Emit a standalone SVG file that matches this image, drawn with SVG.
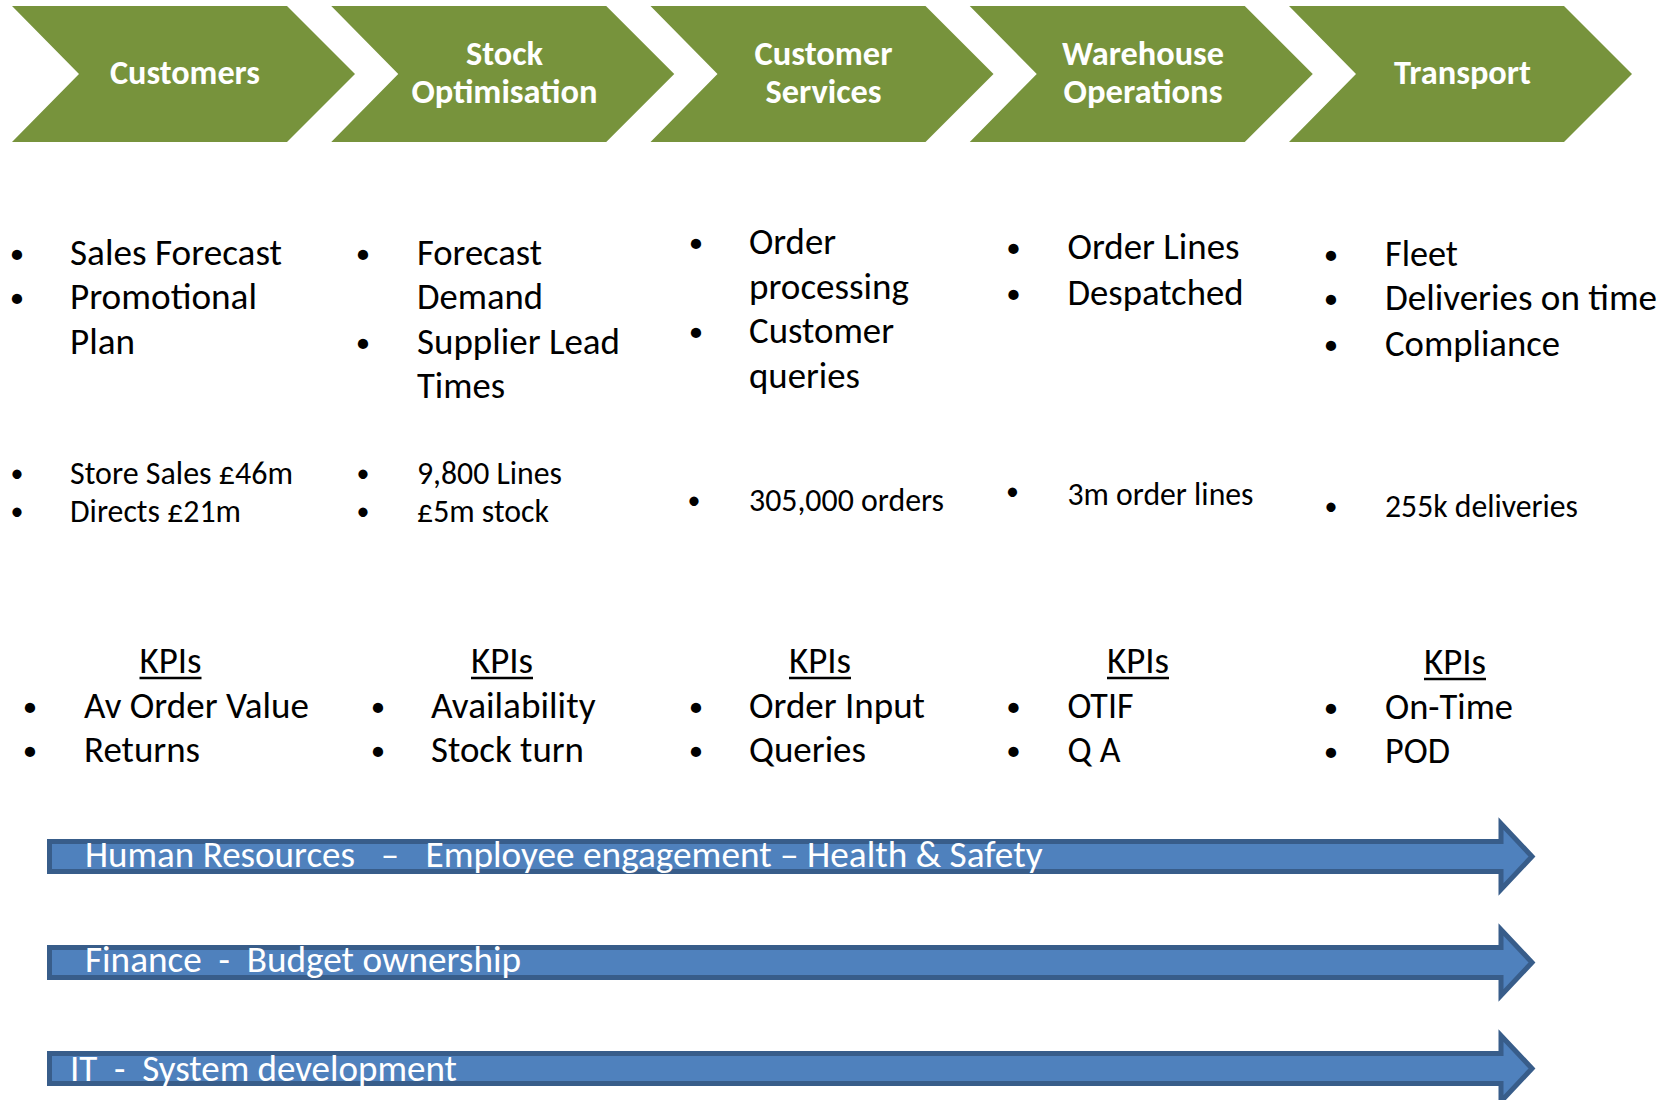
<svg xmlns="http://www.w3.org/2000/svg" width="1664" height="1100" viewBox="0 0 1664 1100">
  <defs>
    <style>
      .chev { fill: #77933C; }
      .chev-t { font-family: Carlito, Lato, "Liberation Sans", sans-serif; font-weight: 700; font-size: 34px; fill: #FFFFFF; text-anchor: middle; }
      .t { font-family: Carlito, Lato, "Liberation Sans", sans-serif; font-size: 36px; fill: #000000; }
      .s { font-family: Carlito, Lato, "Liberation Sans", sans-serif; font-size: 32px; fill: #000000; }
      .b { text-anchor: middle; }
      .t.b { font-size: 29px; }
      .s.b { font-size: 26px; }
      .kpi { text-anchor: middle; }
      .ul { stroke: #000000; stroke-width: 2.5; }
      .band { fill: #4F81BD; stroke: #385D8A; stroke-width: 5; stroke-linejoin: miter; }
      .band-t { font-family: Carlito, Lato, "Liberation Sans", sans-serif; font-size: 36px; fill: #FFFFFF; }
    </style>
    <path id="chevron" d="M12,6 H287 L355,74 L287,142 H12 L79,74 Z"/>
    <path id="band-arrow" d="M49.5,841.5 H1501 V823.5 L1532,856.5 L1501,889.5 V871.5 H49.5 Z"/>
  </defs>

  <rect width="1664" height="1100" fill="#FFFFFF"/>

  <!-- process chevrons -->
  <g id="node-customers">
    <use href="#chevron" class="chev"/>
    <text class="chev-t" x="185" y="84" textLength="150" lengthAdjust="spacingAndGlyphs">Customers</text>
  </g>
  <g id="node-stock">
    <use href="#chevron" class="chev" transform="translate(319.25,0)"/>
    <text class="chev-t" x="504.5" y="65" textLength="77" lengthAdjust="spacingAndGlyphs">Stock</text>
    <text class="chev-t" x="504.5" y="103" textLength="186" lengthAdjust="spacingAndGlyphs">Optimisation</text>
  </g>
  <g id="node-services">
    <use href="#chevron" class="chev" transform="translate(638.5,0)"/>
    <text class="chev-t" x="823.5" y="65" textLength="138" lengthAdjust="spacingAndGlyphs">Customer</text>
    <text class="chev-t" x="823.5" y="103" textLength="116" lengthAdjust="spacingAndGlyphs">Services</text>
  </g>
  <g id="node-warehouse">
    <use href="#chevron" class="chev" transform="translate(957.75,0)"/>
    <text class="chev-t" x="1143" y="65" textLength="162" lengthAdjust="spacingAndGlyphs">Warehouse</text>
    <text class="chev-t" x="1143" y="103" textLength="159" lengthAdjust="spacingAndGlyphs">Operations</text>
  </g>
  <g id="node-transport">
    <use href="#chevron" class="chev" transform="translate(1277,0)"/>
    <text class="chev-t" x="1462.5" y="84" textLength="137" lengthAdjust="spacingAndGlyphs">Transport</text>
  </g>

  <!-- activities per stage -->
  <g id="activities">
    <text class="t b" x="17" y="263">•</text>
    <text class="t" x="70" y="265" textLength="212" lengthAdjust="spacingAndGlyphs">Sales Forecast</text>
    <text class="t b" x="17" y="307">•</text>
    <text class="t" x="70" y="309" textLength="187" lengthAdjust="spacingAndGlyphs">Promotional</text>
    <text class="t" x="70" y="354" textLength="65" lengthAdjust="spacingAndGlyphs">Plan</text>

    <text class="t b" x="363" y="263">•</text>
    <text class="t" x="417" y="265" textLength="125" lengthAdjust="spacingAndGlyphs">Forecast</text>
    <text class="t" x="417" y="309" textLength="126" lengthAdjust="spacingAndGlyphs">Demand</text>
    <text class="t b" x="363" y="352">•</text>
    <text class="t" x="417" y="354" textLength="203" lengthAdjust="spacingAndGlyphs">Supplier Lead</text>
    <text class="t" x="417" y="398" textLength="88" lengthAdjust="spacingAndGlyphs">Times</text>

    <text class="t b" x="696" y="252">•</text>
    <text class="t" x="749" y="254" textLength="87" lengthAdjust="spacingAndGlyphs">Order</text>
    <text class="t" x="749" y="298.5" textLength="160" lengthAdjust="spacingAndGlyphs">processing</text>
    <text class="t b" x="696" y="341">•</text>
    <text class="t" x="749" y="343" textLength="145" lengthAdjust="spacingAndGlyphs">Customer</text>
    <text class="t" x="749" y="388" textLength="111" lengthAdjust="spacingAndGlyphs">queries</text>

    <text class="t b" x="1013.5" y="257">•</text>
    <text class="t" x="1067.5" y="259" textLength="172" lengthAdjust="spacingAndGlyphs">Order Lines</text>
    <text class="t b" x="1013.5" y="303">•</text>
    <text class="t" x="1067.5" y="305" textLength="176" lengthAdjust="spacingAndGlyphs">Despatched</text>

    <text class="t b" x="1331" y="264">•</text>
    <text class="t" x="1385" y="266" textLength="73" lengthAdjust="spacingAndGlyphs">Fleet</text>
    <text class="t b" x="1331" y="308">•</text>
    <text class="t" x="1385" y="310" textLength="272" lengthAdjust="spacingAndGlyphs">Deliveries on time</text>
    <text class="t b" x="1331" y="354">•</text>
    <text class="t" x="1385" y="356" textLength="175" lengthAdjust="spacingAndGlyphs">Compliance</text>
  </g>

  <!-- volumes per stage -->
  <g id="volumes">
    <text class="s b" x="17" y="482">•</text>
    <text class="s" x="70" y="484" textLength="223" lengthAdjust="spacingAndGlyphs">Store Sales £46m</text>
    <text class="s b" x="17" y="520">•</text>
    <text class="s" x="70" y="522" textLength="171" lengthAdjust="spacingAndGlyphs">Directs £21m</text>

    <text class="s b" x="363" y="482">•</text>
    <text class="s" x="417" y="484" textLength="145" lengthAdjust="spacingAndGlyphs">9,800 Lines</text>
    <text class="s b" x="363" y="520">•</text>
    <text class="s" x="417" y="522" textLength="132" lengthAdjust="spacingAndGlyphs">£5m stock</text>

    <text class="s b" x="694" y="509">•</text>
    <text class="s" x="749" y="511" textLength="195" lengthAdjust="spacingAndGlyphs">305,000 orders</text>

    <text class="s b" x="1012.5" y="500">•</text>
    <text class="s" x="1067.5" y="505" textLength="186" lengthAdjust="spacingAndGlyphs">3m order lines</text>

    <text class="s b" x="1331" y="515">•</text>
    <text class="s" x="1385" y="517" textLength="193" lengthAdjust="spacingAndGlyphs">255k deliveries</text>
  </g>

  <!-- KPIs per stage -->
  <g id="kpis">
    <text class="t kpi" x="170.5" y="673" textLength="62" lengthAdjust="spacingAndGlyphs">KPIs</text>
    <line class="ul" x1="139.5" y1="678" x2="201.5" y2="678"/>
    <text class="t b" x="30" y="716">•</text>
    <text class="t" x="84" y="718" textLength="225" lengthAdjust="spacingAndGlyphs">Av Order Value</text>
    <text class="t b" x="30" y="760">•</text>
    <text class="t" x="84" y="762" textLength="116" lengthAdjust="spacingAndGlyphs">Returns</text>

    <text class="t kpi" x="502" y="673" textLength="62" lengthAdjust="spacingAndGlyphs">KPIs</text>
    <line class="ul" x1="471" y1="678" x2="533" y2="678"/>
    <text class="t b" x="378" y="716">•</text>
    <text class="t" x="431" y="718" textLength="164.5" lengthAdjust="spacingAndGlyphs">Availability</text>
    <text class="t b" x="378" y="760">•</text>
    <text class="t" x="431" y="762" textLength="153" lengthAdjust="spacingAndGlyphs">Stock turn</text>

    <text class="t kpi" x="820" y="673" textLength="62" lengthAdjust="spacingAndGlyphs">KPIs</text>
    <line class="ul" x1="789" y1="678" x2="851" y2="678"/>
    <text class="t b" x="696" y="716">•</text>
    <text class="t" x="749" y="718" textLength="176" lengthAdjust="spacingAndGlyphs">Order Input</text>
    <text class="t b" x="696" y="760">•</text>
    <text class="t" x="749" y="762" textLength="117" lengthAdjust="spacingAndGlyphs">Queries</text>

    <text class="t kpi" x="1138" y="673" textLength="62" lengthAdjust="spacingAndGlyphs">KPIs</text>
    <line class="ul" x1="1107" y1="678" x2="1169" y2="678"/>
    <text class="t b" x="1013.5" y="716">•</text>
    <text class="t" x="1067.5" y="718" textLength="66" lengthAdjust="spacingAndGlyphs">OTIF</text>
    <text class="t b" x="1013.5" y="760">•</text>
    <text class="t" x="1067.5" y="762" textLength="53" lengthAdjust="spacingAndGlyphs">Q A</text>

    <text class="t kpi" x="1455" y="674" textLength="62" lengthAdjust="spacingAndGlyphs">KPIs</text>
    <line class="ul" x1="1424" y1="679" x2="1486" y2="679"/>
    <text class="t b" x="1331" y="717">•</text>
    <text class="t" x="1385" y="719" textLength="128" lengthAdjust="spacingAndGlyphs">On-Time</text>
    <text class="t b" x="1331" y="761">•</text>
    <text class="t" x="1385" y="763" textLength="65" lengthAdjust="spacingAndGlyphs">POD</text>
  </g>

  <!-- cross-functional support bands -->
  <g id="bands">
    <g id="band-hr">
      <use href="#band-arrow" class="band"/>
      <text class="band-t" y="867"><tspan x="85" textLength="270" lengthAdjust="spacingAndGlyphs">Human Resources</tspan><tspan x="390" text-anchor="middle">–</tspan><tspan x="425.5" textLength="617" lengthAdjust="spacingAndGlyphs">Employee engagement – Health &amp; Safety</tspan></text>
    </g>
    <g id="band-finance">
      <use href="#band-arrow" class="band" transform="translate(0,106)"/>
      <text class="band-t" x="85" y="972" xml:space="preserve" textLength="436" lengthAdjust="spacingAndGlyphs">Finance  -  Budget ownership</text>
    </g>
    <g id="band-it">
      <use href="#band-arrow" class="band" transform="translate(0,212)"/>
      <text class="band-t" x="70" y="1081" xml:space="preserve" textLength="387" lengthAdjust="spacingAndGlyphs">IT  -  System development</text>
    </g>
  </g>
</svg>
